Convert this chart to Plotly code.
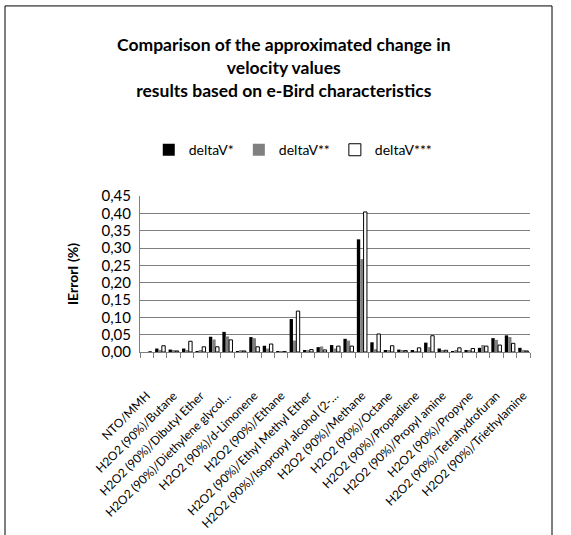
import plotly.graph_objects as go

categories = [
    "NTO/MMH",
    "H2O2 (90%)/Acetone",
    "H2O2 (90%)/Butane",
    "H2O2 (90%)/Cyclohexane",
    "H2O2 (90%)/Dibutyl Ether",
    "H2O2 (90%)/Diethyl Ether",
    "H2O2 (90%)/Diethylene glycol dimethyl ether",
    "H2O2 (90%)/Dimethyl Ether",
    "H2O2 (90%)/d-Limonene",
    "H2O2 (90%)/Dodecane",
    "H2O2 (90%)/Ethane",
    "H2O2 (90%)/Ethanol",
    "H2O2 (90%)/Ethyl Methyl Ether",
    "H2O2 (90%)/Heptane",
    "H2O2 (90%)/Isopropyl alcohol (2-propanol)",
    "H2O2 (90%)/Kerosene",
    "H2O2 (90%)/Methane",
    "H2O2 (90%)/Methanol",
    "H2O2 (90%)/Octane",
    "H2O2 (90%)/Pentane",
    "H2O2 (90%)/Propadiene",
    "H2O2 (90%)/Propane",
    "H2O2 (90%)/Propyl amine",
    "H2O2 (90%)/Propylene",
    "H2O2 (90%)/Propyne",
    "H2O2 (90%)/Styrene",
    "H2O2 (90%)/Tetrahydrofuran",
    "H2O2 (90%)/Toluene",
    "H2O2 (90%)/Triethylamine",
]

tick_labels = [
    "NTO/MMH", "",
    "H2O2 (90%)/Butane", "",
    "H2O2 (90%)/Dibutyl Ether", "",
    "H2O2 (90%)/Diethylene glycol…", "",
    "H2O2 (90%)/d-Limonene", "",
    "H2O2 (90%)/Ethane", "",
    "H2O2 (90%)/Ethyl Methyl Ether", "",
    "H2O2 (90%)/Isopropyl alcohol (2-…", "",
    "H2O2 (90%)/Methane", "",
    "H2O2 (90%)/Octane", "",
    "H2O2 (90%)/Propadiene", "",
    "H2O2 (90%)/Propyl amine", "",
    "H2O2 (90%)/Propyne", "",
    "H2O2 (90%)/Tetrahydrofuran", "",
    "H2O2 (90%)/Triethylamine",
]

delta_v1 = [0.000, 0.010, 0.007, 0.010, 0.002, 0.044, 0.058, 0.002, 0.043, 0.018,
            0.002, 0.095, 0.004, 0.014, 0.020, 0.038, 0.325, 0.028, 0.004, 0.007,
            0.003, 0.027, 0.010, 0.002, 0.004, 0.012, 0.040, 0.048, 0.012]
delta_v2 = [0.000, 0.004, 0.003, 0.004, 0.003, 0.036, 0.045, 0.003, 0.040, 0.010,
            0.002, 0.033, 0.003, 0.016, 0.010, 0.033, 0.268, 0.008, 0.003, 0.003,
            0.002, 0.014, 0.005, 0.003, 0.003, 0.020, 0.035, 0.043, 0.006]
delta_v3 = [0.000, 0.018, 0.003, 0.031, 0.015, 0.015, 0.035, 0.003, 0.015, 0.023,
            0.001, 0.118, 0.007, 0.006, 0.017, 0.017, 0.404, 0.052, 0.018, 0.004,
            0.012, 0.047, 0.005, 0.012, 0.010, 0.017, 0.020, 0.025, 0.003]

font_family = "Lato, 'Open Sans', sans-serif"

fig = go.Figure()
fig.add_trace(go.Bar(name="deltaV*", x=categories, y=delta_v1,
                     marker=dict(color="#000000", line=dict(width=0))))
fig.add_trace(go.Bar(name="deltaV**", x=categories, y=delta_v2,
                     marker=dict(color="#808080", line=dict(width=0))))
fig.add_trace(go.Bar(name="deltaV***", x=categories, y=delta_v3,
                     marker=dict(color="#ffffff", line=dict(color="#000000", width=1))))

fig.update_layout(
    width=571, height=535,
    margin=dict(l=140, r=41, t=196, b=183),
    paper_bgcolor="white", plot_bgcolor="white",
    separators=",.",
    font=dict(family=font_family, color="#000000"),
    barmode="group", bargap=0.25, bargroupgap=0.0,
    title=dict(
        text="<b>Comparison of the approximated change in<br>velocity values<br>results based on e-Bird characteristics</b>",
        x=0.497, xanchor="center", xref="container",
        y=0.904, yanchor="bottom", yref="container",
        font=dict(size=17.5, family=font_family, color="#000000"),
    ),
    legend=dict(
        orientation="h", x=0.393, xanchor="center", y=1.294, yanchor="middle",
        font=dict(size=14, family=font_family, color="#000000"),
        itemwidth=30, traceorder="normal",
    ),
    showlegend=True,
)

fig.update_xaxes(
    type="category", automargin=False,
    tickmode="array", tickvals=categories, ticktext=tick_labels,
    tickangle=-45, tickfont=dict(size=12, family=font_family, color="#000000"),
    ticklabelstandoff=31,
    showline=True, linecolor="#7f7f7f", linewidth=1,
    ticks="outside", ticklen=5, tickcolor="#7f7f7f", tickson="boundaries",
    showgrid=False,
)
fig.update_yaxes(
    automargin=False,
    range=[0, 0.45], dtick=0.05, tickformat=".2f",
    tickfont=dict(size=15, family=font_family, color="#000000"),
    ticklabelstandoff=5,
    showgrid=True, gridcolor="#7f7f7f", gridwidth=1,
    showline=True, linecolor="#7f7f7f", linewidth=1,
    zeroline=False,
    title=dict(text="<b>IErrorI (%)</b>", font=dict(size=14, family=font_family, color="#000000"), standoff=19),
)

# chart area border (bottom edge lies below the visible page)
fig.add_shape(type="rect", xref="paper", yref="paper",
              x0=(5 - 140) / 390, x1=(552 - 140) / 390,
              y0=(352.4 - 545) / 156.6, y1=(352.4 - 5) / 156.6,
              line=dict(color="#000000", width=1), fillcolor="rgba(0,0,0,0)", layer="below")

fig.write_html("out.html", config={"displayModeBar": False},
               post_script="document.body.style.margin='0';")
